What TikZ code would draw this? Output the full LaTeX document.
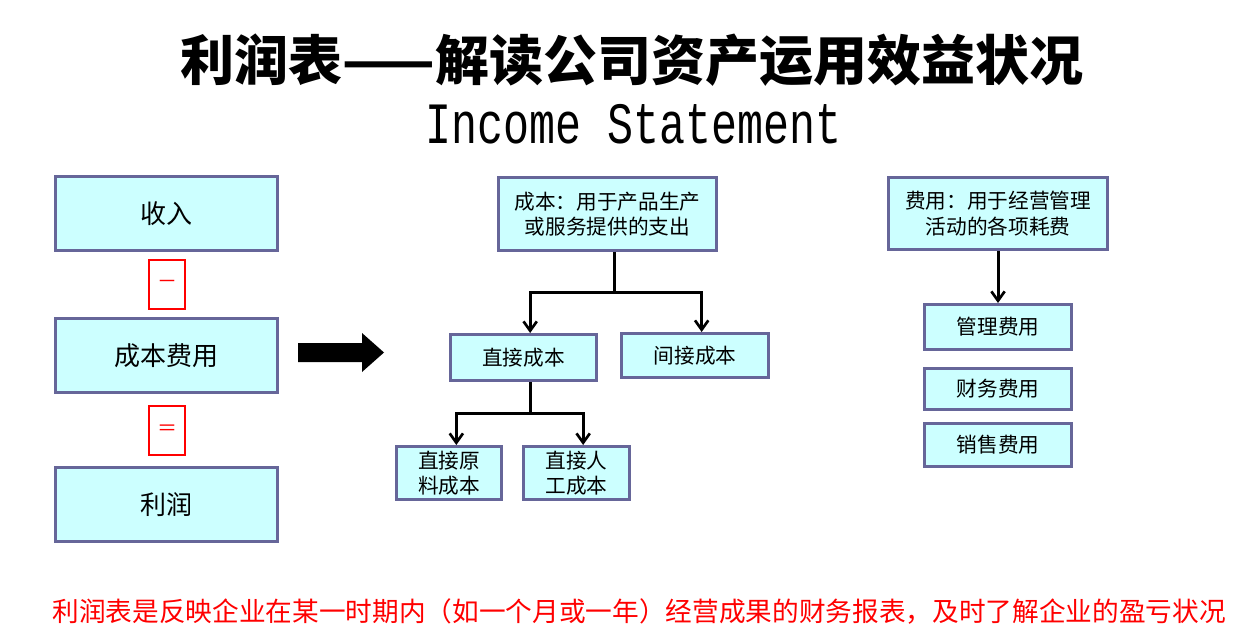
\documentclass[tikz,border=0pt]{standalone}
\usepackage{fontspec}
\setmainfont{Noto Sans CJK SC}
\newfontfamily\cjk{Noto Sans CJK SC}
\newfontfamily\monofont{Liberation Mono}
\usetikzlibrary{arrows.meta}
\definecolor{boxfill}{HTML}{CCFFFF}
\definecolor{boxline}{HTML}{666699}
\tikzset{
  item/.style={draw=boxline, line width=2.25pt, fill=boxfill, inner sep=0pt, align=center, font=\cjk\fontsize{19.5}{23}\selectfont},
  subitem/.style={item, font=\cjk\fontsize{15.5}{19}\selectfont},
  sign/.style={draw=red, line width=1.6pt, text=red, minimum width=27pt, minimum height=36.75pt, inner sep=0pt, font=\cjk\fontsize{15}{18}\selectfont},
  link/.style={line width=2.25pt, -{Straight Barb[length=7pt,width=10pt,line width=2pt]}}
}
\begin{document}
\begin{tikzpicture}[x=0.75pt,y=-0.75pt]
  \useasboundingbox (0,0) rectangle (1242,635);
  \node (title) at (632,60) {\cjk\bfseries\fontsize{40.5}{44}\selectfont 利润表——解读公司资产运用效益状况};
  \node[yscale=1.35] (eng) at (634,124) {\monofont\fontsize{32.5}{36}\selectfont Income Statement};

  \node[item, minimum width=166.5pt, minimum height=55.5pt] (sr) at (166.5,213.5) {收入};
  \node[sign] (minus) at (167,284.5) {－};
  \node[item, minimum width=166.5pt, minimum height=55.5pt] (cbfy) at (166.5,355.5) {成本费用};
  \node[sign] (equal) at (167,430.5) {＝};
  \node[item, minimum width=166.5pt, minimum height=55.5pt] (lr) at (166.5,504.5) {利润};

  \fill (298,343) -- (362,343) -- (362,333) -- (384,352.5) -- (362,372) -- (362,362) -- (298,362) -- cycle;

  \node[subitem, minimum width=163.5pt, minimum height=54.75pt] (cb) at (607.5,214) {成本：用于产品生产\\或服务提供的支出};
  \node[subitem, minimum width=109.5pt, minimum height=34.5pt] (zjcb) at (523.5,357.5) {直接成本};
  \node[subitem, minimum width=110.25pt, minimum height=33pt] (jjcb) at (695,355.5) {间接成本};
  \node[subitem, minimum width=78.75pt, minimum height=39.75pt] (ylcb) at (449,473) {直接原\\料成本};
  \node[subitem, minimum width=79.5pt, minimum height=39.75pt] (rgcb) at (576.5,473) {直接人\\工成本};

  \node[subitem, minimum width=164.25pt, minimum height=54pt] (fy) at (998,213.5) {费用：用于经营管理\\活动的各项耗费};
  \node[subitem, minimum width=110.25pt, minimum height=33.75pt] (glfy) at (998,327) {管理费用};
  \node[subitem, minimum width=110.25pt, minimum height=30.75pt] (cwfy) at (998,389) {财务费用};
  \node[subitem, minimum width=110.25pt, minimum height=32.25pt] (xsfy) at (998,445) {销售费用};

  \draw[link] ([xshift=5pt]cb.south) -- ++(0,40) coordinate (j1) -| ([xshift=5pt]zjcb.north);
  \draw[link] (j1) -| ([xshift=5pt]jjcb.north);
  \draw[link] ([xshift=5pt]zjcb.south) -- ++(0,31) coordinate (j2) -| ([xshift=5.5pt]ylcb.north);
  \draw[link] (j2) -| ([xshift=5pt]rgcb.north);
  \draw[link] (fy.south) -- (glfy.north);

  \node[text=red] (note) at (639,612) {\cjk\fontsize{20}{24}\selectfont 利润表是反映企业在某一时期内（如一个月或一年）经营成果的财务报表，及时了解企业的盈亏状况};
\end{tikzpicture}
\end{document}
